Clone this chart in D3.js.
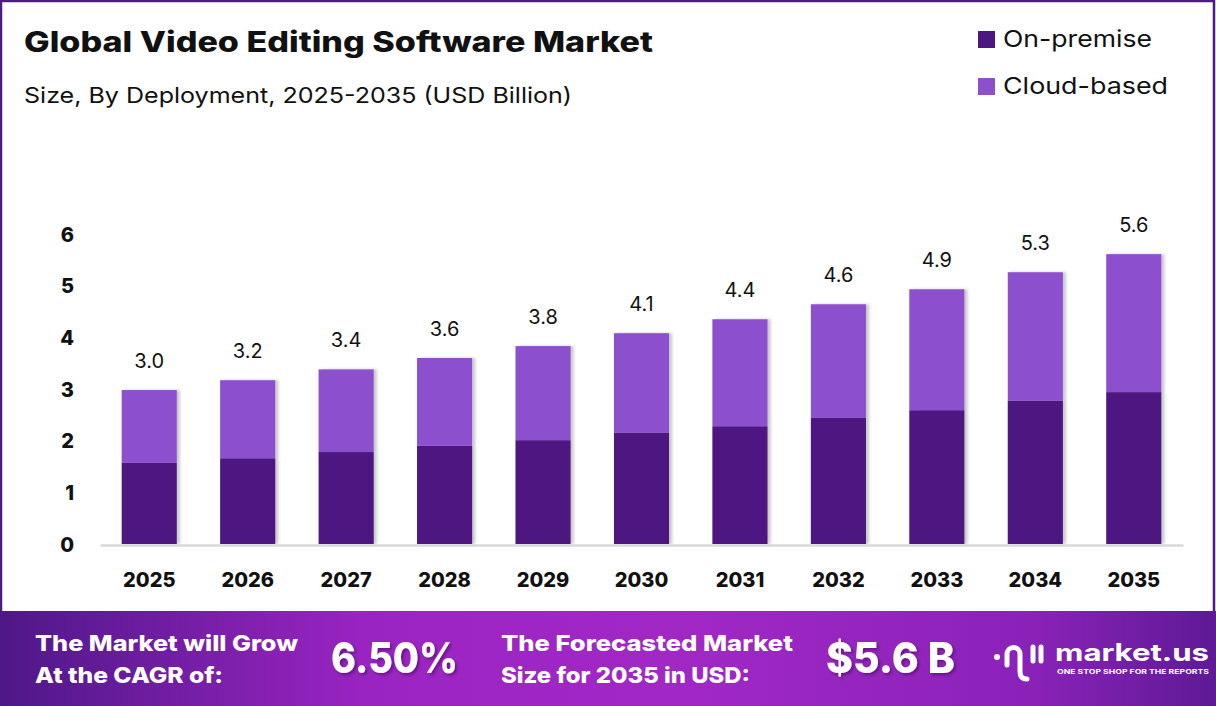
<!DOCTYPE html>
<html><head><meta charset="utf-8">
<script src="https://cdn.jsdelivr.net/npm/d3@7"></script>
<style>
html,body{margin:0;padding:0;background:#fff;}
svg{display:block;font-family:Inter,"Open Sans",sans-serif;}
</style></head>
<body>
<svg id="chart" width="1216" height="706"></svg>
<script>
const years = ["2025","2026","2027","2028","2029","2030","2031","2032","2033","2034","2035"];
const onPremise = [1.57,1.66,1.78,1.90,2.01,2.15,2.28,2.44,2.59,2.77,2.94];
const cloudBased = [1.41,1.51,1.60,1.70,1.82,1.93,2.07,2.20,2.34,2.49,2.67];
const totalLabels = ["3.0","3.2","3.4","3.6","3.8","4.1","4.4","4.6","4.9","5.3","5.6"];
const yTicks = [0,1,2,3,4,5,6];
const seriesNames = ["On-premise","Cloud-based"];
const colors = ["#4e1681","#8c50cd"];

const svg = d3.select("#chart");
const W = 1216, H = 706;

const defs = svg.append("defs");
const sh = defs.append("filter").attr("id","barShadow").attr("x","-10%").attr("y","-5%").attr("width","130%").attr("height","110%");
sh.append("feDropShadow").attr("dx",3).attr("dy",0).attr("stdDeviation",1.5).attr("flood-color","#000").attr("flood-opacity",0.22);
const ts = defs.append("filter").attr("id","txtShadow").attr("x","-10%").attr("y","-20%").attr("width","130%").attr("height","150%");
ts.append("feDropShadow").attr("dx",2).attr("dy",2).attr("stdDeviation",1.5).attr("flood-color","#2a0040").attr("flood-opacity",0.45);
const grad = defs.append("linearGradient").attr("id","footGrad").attr("x1","0").attr("x2","1").attr("y1","0").attr("y2","0");
grad.append("stop").attr("offset","0%").attr("stop-color","#4e1888");
grad.append("stop").attr("offset","30%").attr("stop-color","#9a24c2");
grad.append("stop").attr("offset","55%").attr("stop-color","#a228c6");
grad.append("stop").attr("offset","85%").attr("stop-color","#8a22b8");
grad.append("stop").attr("offset","100%").attr("stop-color","#5e1a96");

// border
svg.append("rect").attr("x",1).attr("y",1).attr("width",W-3).attr("height",H-2)
  .attr("fill","none").attr("stroke","#4e1a86").attr("stroke-width",2.5);

// titles
svg.append("text").attr("x",24).attr("y",52).attr("font-size",28).attr("font-weight",800)
  .attr("fill","#111").attr("textLength",629).attr("lengthAdjust","spacingAndGlyphs")
  .text("Global Video Editing Software Market");
svg.append("text").attr("x",24).attr("y",103).attr("font-size",22).attr("font-weight",400)
  .attr("fill","#111").attr("textLength",548).attr("lengthAdjust","spacingAndGlyphs")
  .text("Size, By Deployment, 2025-2035 (USD Billion)");

// legend
const leg = svg.append("g");
seriesNames.forEach((n,i)=>{
  leg.append("rect").attr("x",978).attr("y",31+i*47).attr("width",17).attr("height",17).attr("fill",colors[i]);
  leg.append("text").attr("x",1003).attr("y",47+i*47).attr("font-size",23).attr("fill","#111")
    .attr("textLength", i===0?149:165).attr("lengthAdjust","spacingAndGlyphs").text(n);
});

// scales
const x = d3.scaleBand().domain(years).range([100,1183]).paddingInner(0.44).paddingOuter(0.22);
const y = d3.scaleLinear().domain([0,6]).range([544,234]);

// stacked data
const rows = years.map((yr,i)=>({year:yr,"On-premise":onPremise[i],"Cloud-based":cloudBased[i]}));
const stack = d3.stack().keys(seriesNames)(rows);

const barsG = svg.append("g").attr("filter","url(#barShadow)");
stack.forEach((layer,li)=>{
  barsG.selectAll(null).data(layer).enter().append("rect")
    .attr("x",d=>x(d.data.year)).attr("width",x.bandwidth())
    .attr("y",d=>y(d[1])).attr("height",d=>y(d[0])-y(d[1]))
    .attr("fill",colors[li]);
});

// baseline axis
const xAxis = d3.axisBottom(x).tickSize(0).tickPadding(0);
const xg = svg.append("g").attr("transform","translate(0,545)").call(xAxis);
xg.select(".domain").attr("stroke","#d9d9d9").attr("stroke-width",2.5);
xg.selectAll("text").attr("dy",null).attr("y",42).attr("font-size",20).attr("font-weight",800)
  .attr("fill","#111").attr("font-family","Inter,sans-serif");

// y axis labels
const yAxis = d3.axisLeft(y).tickValues(yTicks).tickSize(0).tickPadding(0).tickFormat(d3.format("d"));
const yg = svg.append("g").attr("transform","translate(74,0)").call(yAxis);
yg.select(".domain").remove();
yg.selectAll("text").attr("font-size",20).attr("font-weight",800).attr("fill","#111")
  .attr("font-family","Inter,sans-serif").attr("x",0).attr("dy","0.35em");

// value labels
const totals = years.map((yr,i)=>onPremise[i]+cloudBased[i]);
svg.append("g").selectAll("text").data(years).enter().append("text")
  .attr("x",d=>x(d)+x.bandwidth()/2).attr("y",(d,i)=>y(totals[i])-22)
  .attr("text-anchor","middle").attr("font-size",20).attr("fill","#111")
  .text((d,i)=>totalLabels[i]);

// footer
const fy = 611;
svg.append("rect").attr("x",0).attr("y",fy).attr("width",W).attr("height",H-fy).attr("fill","url(#footGrad)");
const ft = svg.append("g").attr("fill","#fff").attr("font-weight",800);
ft.append("text").attr("x",35).attr("y",651).attr("font-size",22).attr("textLength",263).attr("lengthAdjust","spacingAndGlyphs").text("The Market will Grow");
ft.append("text").attr("x",35).attr("y",683).attr("font-size",22).attr("textLength",188).attr("lengthAdjust","spacingAndGlyphs").text("At the CAGR of:");
ft.append("text").attr("x",331).attr("y",673).attr("font-size",42).attr("filter","url(#txtShadow)").attr("textLength",127).attr("lengthAdjust","spacingAndGlyphs").text("6.50%");
ft.append("text").attr("x",501).attr("y",651).attr("font-size",22).attr("textLength",292).attr("lengthAdjust","spacingAndGlyphs").text("The Forecasted Market");
ft.append("text").attr("x",501).attr("y",683).attr("font-size",22).attr("textLength",249).attr("lengthAdjust","spacingAndGlyphs").text("Size for 2035 in USD:");
ft.append("text").attr("x",826).attr("y",673).attr("font-size",42).attr("filter","url(#txtShadow)").attr("textLength",129).attr("lengthAdjust","spacingAndGlyphs").text("$5.6 B");

// logo
const lg = svg.append("g").attr("fill","none").attr("stroke","#fff").attr("stroke-linecap","round").attr("stroke-width",5);
lg.append("circle").attr("cx",997).attr("cy",657).attr("r",3).attr("fill","#fff").attr("stroke","none");
lg.append("path").attr("d","M1007,665 L1007,654 A6.5,6.5 0 0 1 1020,654 L1020,672 Q1020,679 1027,679");
lg.append("line").attr("x1",1033).attr("y1",647).attr("x2",1033).attr("y2",661);
lg.append("line").attr("x1",1041).attr("y1",647).attr("x2",1041).attr("y2",661);
svg.append("text").attr("x",1055).attr("y",661).attr("font-size",24).attr("font-weight",700).attr("fill","#fff")
  .attr("textLength",154).attr("lengthAdjust","spacingAndGlyphs").text("market.us");
svg.append("text").attr("x",1057).attr("y",674).attr("font-size",6.5).attr("font-weight",700).attr("fill","#fff")
  .attr("textLength",152).attr("lengthAdjust","spacingAndGlyphs").text("ONE STOP SHOP FOR THE REPORTS");
</script>
</body></html>
